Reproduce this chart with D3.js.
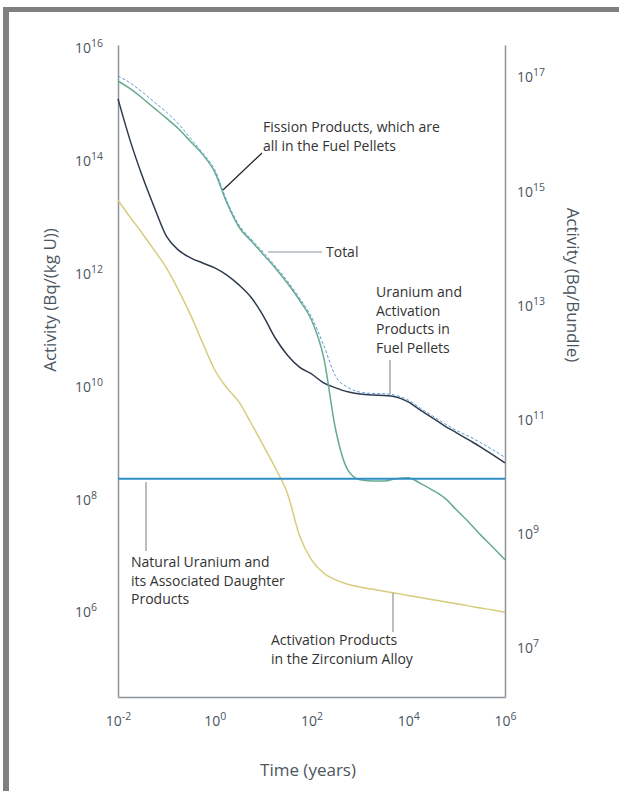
<!DOCTYPE html>
<html>
<head>
<meta charset="utf-8">
<script src="https://cdn.jsdelivr.net/npm/d3@7"></script>
<style>
  body { margin: 0; background: #fff; }
  text { font-family: "Open Sans", "Noto Sans", sans-serif; }
</style>
</head>
<body>
<svg id="chart" width="619" height="791"></svg>
<script>
// time grid (years), quarter-decade steps
const years = [0.01, 0.0178, 0.0316, 0.0562, 0.1, 0.178, 0.316, 0.562, 1, 1.78, 3.16, 5.62,
  10, 17.8, 31.6, 56.2, 100, 178, 316, 562, 1000, 1780, 3160, 5620, 1e4, 1.78e4, 3.16e4, 5.62e4,
  1e5, 1.78e5, 3.16e5, 5.62e5, 1e6];

// activity, Bq/(kg U)
const fission = [2.6e15, 1.9e15, 1.3e15, 8.6e14, 5.7e14, 3.7e14, 2.2e14, 1.3e14, 6.3e13, 1.8e13,
  6.7e12, 3.8e12, 2.2e12, 1.26e12, 6.8e11, 3.4e11, 1.5e11, 3.3e10, 1.7e9, 3.3e8, 2.2e8, 2.1e8,
  2.1e8, 2.3e8, 2.4e8, 1.9e8, 1.45e8, 1.05e8, 6.4e7, 3.9e7, 2.3e7, 1.4e7, 8.4e6];
const uranium = [1.25e15, 2.3e14, 5.4e13, 1.5e13, 4.6e12, 2.6e12, 1.9e12, 1.54e12, 1.26e12, 9.4e11,
  6.3e11, 3.8e11, 1.8e11, 7.2e10, 3.6e10, 2.2e10, 1.66e10, 1.15e10, 9.4e9, 8.0e9, 7.3e9, 7.0e9,
  6.9e9, 6.5e9, 5.3e9, 3.8e9, 2.75e9, 2.0e9, 1.5e9, 1.12e9, 8.4e8, 6.1e8, 4.4e8];
const zircaloy = [2.0e13, 1.0e13, 5.2e12, 2.6e12, 1.26e12, 5.1e11, 1.85e11, 5.9e10, 1.95e10, 9.4e9,
  5.3e9, 2.24e9, 9.1e8, 3.6e8, 1.29e8, 2.3e7, 8.4e6, 4.9e6, 3.7e6, 3.1e6, 2.77e6, 2.54e6, 2.33e6,
  2.14e6, 1.96e6, 1.8e6, 1.65e6, 1.52e6, 1.39e6, 1.28e6, 1.17e6, 1.08e6, 9.9e5];
const total = [3.2e15, 2.4e15, 1.66e15, 1.1e15, 7.3e14, 4.5e14, 2.5e14, 1.37e14, 6.9e13, 1.94e13,
  7.3e12, 4.1e12, 2.4e12, 1.36e12, 7.4e11, 3.7e11, 1.7e11, 5.4e10, 1.5e10, 9.6e9, 7.9e9, 7.5e9,
  7.4e9, 6.9e9, 5.7e9, 4.1e9, 3.0e9, 2.2e9, 1.65e9, 1.3e9, 1.0e9, 7.5e8, 5.5e8];
const naturalU = 2.3e8;

// tick labels
const xTicks = [1e-2, 1, 1e2, 1e4, 1e6];
const leftTicks = [1e6, 1e8, 1e10, 1e12, 1e14, 1e16];
const rightTicks = [1e7, 1e9, 1e11, 1e13, 1e15, 1e17];

const svg = d3.select('#chart');
const axisColor = '#8a939b';
const labelColor = '#4b5661';
const noteColor = '#333';

// page frame
svg.append('rect').attr('x', 3).attr('y', 7).attr('width', 616).attr('height', 5).attr('fill', '#808080');
svg.append('rect').attr('x', 3).attr('y', 7).attr('width', 6).attr('height', 784).attr('fill', '#808080');

let x = d3.scaleLog().domain([1e-2, 1e6]).range([118, 505]);
let y = d3.scaleLog().domain([3.1e4, 1.13e16]).range([697, 45]);
let yRight = d3.scaleLog().domain([1.39e6, 3.63e17]).range([697, 45]);

// superscript tick labels: 10^n
let supLabel = function (sel) {
    sel.each(function (d) {
        let t = d3.select(this).text(null);
        t.append('tspan').text('10');
        t.append('tspan').attr('font-size', 10.5).attr('dy', -6).text(Math.round(Math.log10(d)));
    });
};

let styleAxis = function (g) {
    g.attr('font-size', 14).attr('font-family', null).attr('color', labelColor);
    g.select('.domain').attr('stroke', axisColor).attr('stroke-width', 1.5);
};

let gx = svg.append('g').attr('transform', 'translate(0,697)')
    .call(d3.axisBottom(x).tickValues(xTicks).tickSize(0).tickSizeOuter(0));
styleAxis(gx);
gx.selectAll('.tick text').attr('y', 24).attr('dy', '0.35em').call(supLabel);

let gl = svg.append('g').attr('transform', 'translate(118,0)')
    .call(d3.axisLeft(y).tickValues(leftTicks).tickSize(0).tickSizeOuter(0));
styleAxis(gl);
gl.selectAll('.tick text').attr('x', -43).attr('text-anchor', 'start').attr('dy', '0.35em').call(supLabel);

let gr = svg.append('g').attr('transform', 'translate(505,0)')
    .call(d3.axisRight(yRight).tickValues(rightTicks).tickSize(0).tickSizeOuter(0));
styleAxis(gr);
gr.selectAll('.tick text').attr('x', 12).attr('text-anchor', 'start').attr('dy', '0.35em').call(supLabel);

// axis titles
svg.append('text').attr('x', 308).attr('y', 776).attr('text-anchor', 'middle')
    .attr('font-size', 17).attr('fill', labelColor).text('Time (years)');
svg.append('text').attr('transform', 'translate(56,300) rotate(-90)').attr('text-anchor', 'middle')
    .attr('font-size', 17).attr('fill', labelColor).text('Activity (Bq/(kg U))');
svg.append('text').attr('transform', 'translate(567,285) rotate(90)').attr('text-anchor', 'middle')
    .attr('font-size', 17).attr('fill', labelColor).text('Activity (Bq/Bundle)');

// curves
let line = d3.line()
    .x(d => x(d[0]))
    .y(d => y(d[1]))
    .curve(d3.curveMonotoneX);

let series = [
    {values: zircaloy, color: '#d8cc7c', width: 1.5, dash: null},
    {values: uranium, color: '#2e3b4e', width: 1.5, dash: null},
    {values: fission, color: '#66aa8f', width: 1.5, dash: null},
    {values: total, color: '#5b9bd5', width: 1, dash: '3,2'}
];

series.forEach(function (s) {
    svg.append('path')
        .datum(d3.zip(years, s.values))
        .attr('d', line)
        .attr('fill', 'none')
        .attr('stroke', s.color)
        .attr('stroke-width', s.width)
        .attr('stroke-dasharray', s.dash);
});

// natural uranium reference level
svg.append('line')
    .attr('x1', x(years[0])).attr('x2', x(years[years.length - 1]))
    .attr('y1', y(naturalU)).attr('y2', y(naturalU))
    .attr('stroke', '#2f8fc6').attr('stroke-width', 2);

// annotations
let note = function (lines, xPos, yPos) {
    let t = svg.append('text').attr('font-size', 14).attr('fill', noteColor);
    lines.forEach(function (s, i) {
        t.append('tspan').attr('x', xPos).attr('y', yPos + i * 18.5).text(s);
    });
};
let leader = function (x1, y1, x2, y2, color) {
    svg.append('line').attr('x1', x1).attr('y1', y1).attr('x2', x2).attr('y2', y2)
        .attr('stroke', color).attr('stroke-width', 1.2);
};

note(['Fission Products, which are', 'all in the Fuel Pellets'], 263, 132);
leader(223, 190, 262, 153, '#222');

note(['Total'], 326, 257);
leader(268, 252, 322, 252, axisColor);

note(['Uranium and', 'Activation', 'Products in', 'Fuel Pellets'], 376, 297);
leader(390, 360, 390, 394, axisColor);

note(['Natural Uranium and', 'its Associated Daughter', 'Products'], 131, 567);
leader(146, 482, 146, 551, axisColor);

note(['Activation Products', 'in the Zirconium Alloy'], 271, 645);
leader(393, 593, 393, 632, axisColor);
</script>
</body>
</html>
